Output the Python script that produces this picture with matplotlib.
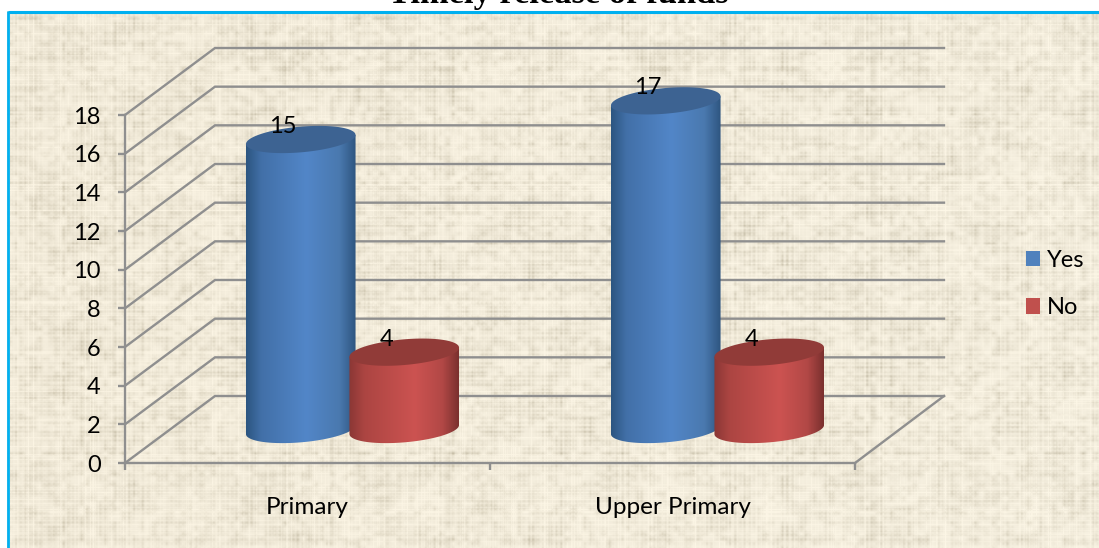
import numpy as np
import matplotlib
matplotlib.use("Agg")
import matplotlib.pyplot as plt
from matplotlib.patches import Polygon, Patch
from matplotlib.colors import LinearSegmentedColormap

categories = ["Primary", "Upper Primary"]
series_names = ["Yes", "No"]
yes_values = [15, 17]
no_values = [4, 4]
y_ticks = list(range(0, 19, 2))
title = "Timely release of funds"

W, H = 1099, 548
LEFT, RIGHT, BASE, TOP = 125, 855, 463, 115
DEPTH_X, DEPTH_Y = 90, 67
BACK_END = 944
GRID = "#8F8F8F"
FONT = "Lato"

px_x = (RIGHT - LEFT) / 2
px_y = (BASE - TOP) / 18


def noise(n, seed):
    i = np.arange(n) + seed
    v = np.sin(i * 12.9898 + seed * 4.1) * 43758.5453
    return v - np.floor(v)


def smooth(a, k, axis=0):
    kern = np.ones(k) / k
    return np.apply_along_axis(lambda m: np.convolve(m, kern, mode="same"), axis, a)


def texture():
    yy, xx = np.mgrid[0:H, 0:W]
    rows = noise(H, 3.0) ** 2
    cols = noise(W, 8.0) ** 2
    r2 = np.outer(rows, np.ones(W))
    c2 = np.outer(np.ones(H), cols)
    cells = np.sin((xx // 6) * 12.9898 + (yy // 5) * 78.233) * 43758.5453
    cells = cells - np.floor(cells)
    cells = smooth(smooth(cells, 5, 1), 4, 0)
    env = (0.5 + 0.5 * np.sin(xx / 19.0 + 1.6 * np.sin(yy / 37.0))
           * np.sin(yy / 15.0 + 1.1 * np.sin(xx / 43.0))) * 0.45 + 1.1 * (cells - 0.25)
    env = np.clip(env, 0.1, 1.1)
    weave = (0.5 + 0.5 * np.sin(2 * np.pi * yy / 4.3)) * (0.5 + 0.5 * np.sin(2 * np.pi * xx / 4.7))
    tex = env * (0.75 * r2 + 0.75 * c2 + 0.6 * weave)
    light = (1 - noise(H, 5.0) ** 4)[:, None] * (1 - noise(W, 9.0) ** 4)[None, :]
    tex = smooth(smooth(tex, 2, 0), 2, 1)
    base = np.array([245, 238, 221], float)
    dark = np.array([-26, -27, -30], float)
    img = base + tex[..., None] * dark + (light[..., None] - 1) * np.array([-8, -8, -8])
    img += (xx[..., None] / W) * np.array([1, 2, 3])
    return np.clip(img, 0, 255).astype(np.uint8)


fig = plt.figure(figsize=(W / 100, H / 100), dpi=100, facecolor="white")
bg = fig.add_axes([0, 0, 1, 1], zorder=0)
bg.set_xlim(0, W)
bg.set_ylim(H, 0)
bg.axis("off")
bg.imshow(texture(), extent=(0, W, H, 0), aspect="auto", interpolation="nearest", zorder=0)
bg.fill_between([0, W], 0, 10.5, color="white", lw=0, zorder=1)
bg.fill_between([0, 7], 0, H, color="white", lw=0, zorder=1)
bg.plot([8, W], [11.5, 11.5], color="#00B0F0", lw=2.2, zorder=2, solid_capstyle="butt")
bg.plot([8, 8], [10.5, H], color="#00B0F0", lw=2.0, zorder=2, solid_capstyle="butt")
bg.set_xlim(0, W)
bg.set_ylim(H, 0)
fig.text(558 / W, 1 - 3 / H, title, family="Liberation Serif", weight="bold", fontsize=24.8,
         ha="center", va="baseline", color="#000000")

ax = fig.add_axes([LEFT / W, 1 - BASE / H, (RIGHT - LEFT) / W, (BASE - TOP) / H], zorder=1)
ax.patch.set_alpha(0)
ax.set_xlim(0, 2)
ax.set_ylim(0, 18)
ax.set_autoscale_on(False)
for s in ("top", "right"):
    ax.spines[s].set_visible(False)
for s in ("left", "bottom"):
    ax.spines[s].set_color(GRID)
    ax.spines[s].set_linewidth(1.7)
ax.set_yticks(y_ticks)
ax.set_xticks([0, 1, 2])
ax.set_xticklabels([])
ax.set_xticks([0.5, 1.5], minor=True)
ax.set_xticklabels(categories, minor=True, family=FONT, fontsize=17.5)
ax.tick_params(axis="x", which="major", length=5, width=1.7, color=GRID)
ax.tick_params(axis="x", which="minor", length=0, pad=24.5)
ax.tick_params(axis="y", length=5, width=1.7, color=GRID, pad=12.5)
for t in ax.get_yticklabels():
    t.set_family(FONT)
    t.set_fontsize(17)

dx = DEPTH_X / px_x
dy = DEPTH_Y / px_y
for v in y_ticks:
    ax.plot([0, dx, dx + (BACK_END - LEFT - DEPTH_X) / px_x], [v, v + dy, v + dy],
            color=GRID, lw=1.7, clip_on=False, zorder=1, solid_joinstyle="miter")
ax.plot([2, dx + (BACK_END - LEFT - DEPTH_X) / px_x], [0, dy], color=GRID, lw=1.7, clip_on=False, zorder=1)

A, B, THETA = 55.0, 12.8, np.deg2rad(5.0)
SPACING = 103.5 / px_x


def ell(t):
    return (A * np.cos(t) * np.cos(THETA) - B * np.sin(t) * np.sin(THETA),
            A * np.cos(t) * np.sin(THETA) + B * np.sin(t) * np.cos(THETA))


def cylinder(x0, value, colors, top_color, z):
    cx = x0 + dx / 2
    cy = dy / 2
    t0 = np.arctan2(-B * np.sin(THETA), A * np.cos(THETA))
    t = np.linspace(np.pi + t0, 2 * np.pi + t0, 80)
    ex, ey = ell(t)
    xs = cx + ex / px_x
    ys = cy + ey / px_y
    xs_all = np.r_[xs, xs[-1], xs[0]]
    ys_all = np.r_[ys, ys[-1] + value, ys[0] + value]
    poly = Polygon(np.c_[xs_all, ys_all], closed=True, fc="none", ec="none", transform=ax.transData)
    ax.add_patch(poly)
    cmap = LinearSegmentedColormap.from_list("c", colors)
    grad = np.linspace(0, 1, 256)[None, :]
    im = ax.imshow(grad, cmap=cmap, extent=(xs.min(), xs.max(), 0, cy + value + 2), aspect="auto",
                   zorder=z, interpolation="bilinear")
    im.set_clip_box(fig.bbox)
    im.set_clip_path(poly)
    tt = np.linspace(0, 2 * np.pi, 100)
    tx, ty = ell(tt)
    ax.add_patch(Polygon(np.c_[cx + tx / px_x, cy + value + ty / px_y], closed=True,
                         fc=top_color, ec="none", zorder=z + 0.1, clip_on=False))
    ax.annotate(str(value), xy=(cx, cy + value), xytext=(-18 * 0.72, 13 * 0.72), textcoords="offset points",
                ha="center", va="center", family=FONT, fontsize=17, color="black", zorder=20,
                annotation_clip=False)


blue = [(0, "#2C5580"), (0.14, "#4270A8"), (0.55, "#5286C8"), (0.85, "#4A79AF"), (1, "#2E5580")]
red = [(0, "#8A3735"), (0.14, "#AC4542"), (0.6, "#CC5351"), (0.85, "#B24846"), (1, "#7A302E")]
for i in range(len(categories)):
    cylinder(i + 0.5 - SPACING / 2, yes_values[i], blue, "#3D6392", 5)
    cylinder(i + 0.5 + SPACING / 2, no_values[i], red, "#913B38", 6)

handles = [Patch(fc="#4F81BD", ec="none"), Patch(fc="#C0504D", ec="none")]
ax.legend(handles, series_names, loc="center left", bbox_to_anchor=(1018.5 / W, 1 - 284 / H),
          bbox_transform=fig.transFigure, frameon=False, prop={"family": FONT, "size": 17},
          handlelength=0.63, handleheight=0.63, handletextpad=0.27, labelspacing=1.13, borderpad=0,
          borderaxespad=0.3)

fig.savefig("out.png", dpi=100, facecolor="white")
